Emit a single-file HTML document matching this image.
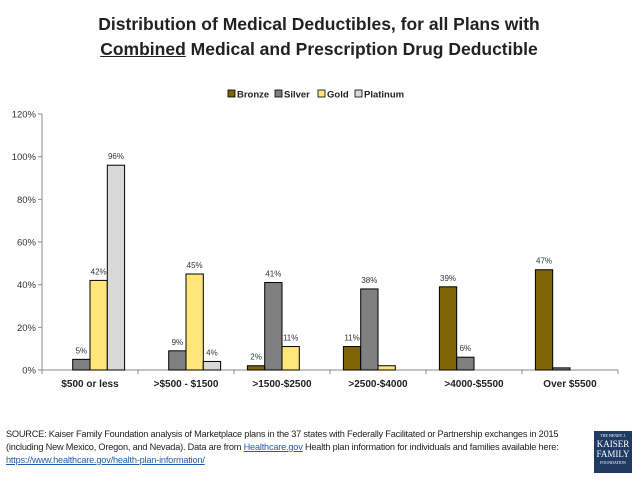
<!DOCTYPE html>
<html><head><meta charset="utf-8"><style>
body{margin:0;width:638px;height:479px;background:#fff;font-family:"Liberation Sans",sans-serif;overflow:hidden;position:relative}
#title{position:absolute;top:12px;left:0;width:638px;text-align:center;font-weight:bold;font-size:17.5px;line-height:25px;color:#222}
#src{position:absolute;left:6px;top:428px;font-size:9.2px;line-height:13px;color:#222;letter-spacing:-0.2px}
#src a{color:#1a5fa8;text-decoration:underline}
#logo{position:absolute;left:594px;top:431px;width:38px;height:42px;background:#1f3a63;color:#fff;font-family:"Liberation Serif",serif;text-align:center;font-size:9px;line-height:10px}
</style></head><body>
<div id="title">Distribution of Medical Deductibles, for all Plans with<br><u>Combined</u> Medical and Prescription Drug Deductible</div>
<svg id="chart" width="638" height="479" style="position:absolute;left:0;top:0"></svg>
<div id="src">SOURCE: Kaiser Family Foundation analysis of Marketplace plans in the 37 states with Federally Facilitated or Partnership exchanges in 2015<br>(including New Mexico, Oregon, and Nevada). Data are from <a>Healthcare.gov</a> Health plan information for individuals and families available here:<br><a>https://www.healthcare.gov/health-plan-information/</a></div>
<div id="logo"><div style="font-size:4px;line-height:6px;margin-top:2px">THE HENRY J.</div>KAISER<br>FAMILY<div style="font-size:4px;line-height:8px">FOUNDATION</div></div>
<script>
const categories=["$500 or less",">$500 - $1500",">1500-$2500",">2500-$4000",">4000-$5500","Over $5500"];
const seriesNames=["Bronze","Silver","Gold","Platinum"];
const bronze=[0,0,2,11,39,47];
const silver=[5,9,41,38,6,1];
const gold=[42,45,11,2,0,0];
const platinum=[96,4,0,0,0,0];
const bronzeLabels=["","","2%","11%","39%","47%"];
const silverLabels=["5%","9%","41%","38%","6%",""];
const goldLabels=["42%","45%","11%","","",""];
const platinumLabels=["96%","4%","","","",""];
const yTicks=[0,20,40,60,80,100,120];
const colors=["#7f6505","#808080","#ffe57a","#d9d9d9"];
const NS="http://www.w3.org/2000/svg";
const svg=document.getElementById('chart');
const x0=42,x1=618,y0=370,y1=114,yMax=120;
const y=v=>y0-(v/yMax)*(y0-y1);
const bw=(x1-x0)/categories.length;
const barW=17.3;
const xBar=(i,s)=>x0+bw*i+bw/2-2*barW+s*barW;
function mk(t,a){const e=document.createElementNS(NS,t);for(const k in a)e.setAttribute(k,a[k]);svg.appendChild(e);return e;}
let e=mk('line',{x1:x0,y1:y1,x2:x0,y2:y0,stroke:'#888'});


e=mk('line',{x1:x0,y1:y0,x2:x1,y2:y0,stroke:'#888'});


yTicks.forEach(t=>{
 mk('line',{x1:x0-4,x2:x0,y1:y(t),y2:y(t),stroke:'#888'});
 const tx=mk('text',{x:x0-6,y:y(t)+3.5,'text-anchor':'end','font-size':'9.5',fill:'#333'});
 tx.textContent=t+'%';
 
 
});
for(let i=0;i<=categories.length;i++)mk('line',{x1:x0+bw*i,x2:x0+bw*i,y1:y0,y2:y0+4,stroke:'#888'});
categories.forEach((c,i)=>{
 const tx=mk('text',{x:x0+bw*i+bw/2,y:y0+17,'text-anchor':'middle','font-size':'10','font-weight':'bold',fill:'#222'});
 tx.textContent=c;
 
 
});
const data=[bronze,silver,gold,platinum];
const labels=[bronzeLabels,silverLabels,goldLabels,platinumLabels];
data.forEach((ser,s)=>ser.forEach((v,i)=>{
 if(v<=0)return;
 const r=mk('rect',{x:xBar(i,s),y:y(v),width:barW,height:y0-y(v),fill:colors[s],stroke:'#000','stroke-width':'1'});
 
 
 if(labels[s][i]){
  const t=mk('text',{x:xBar(i,s)+barW/2,y:y(v)-6,'text-anchor':'middle','font-size':'8',fill:'#333'});
  t.textContent=labels[s][i];
  
  
 }
}));
const legX=[228,275,318,355];
seriesNames.forEach((n,s)=>{
 const r=mk('rect',{x:legX[s],y:90,width:7,height:7,fill:colors[s],stroke:'#000','stroke-width':'0.8'});
 
 
 const t=mk('text',{x:legX[s]+9,y:97.5,'font-size':'9.5','font-weight':'bold',fill:'#222'});
 t.textContent=n;
 
 
});
</script>
</body></html>
